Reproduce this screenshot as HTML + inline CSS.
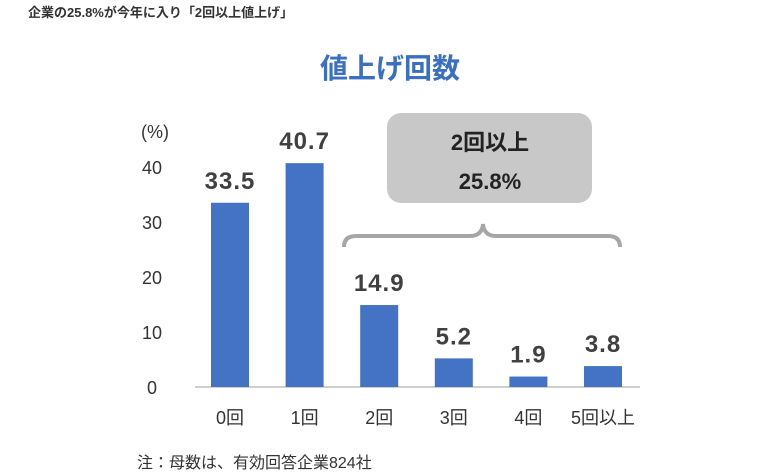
<!DOCTYPE html>
<html><head><meta charset="utf-8"><style>
body{margin:0;width:780px;height:471px;background:#fff;overflow:hidden;font-family:"Liberation Sans","Noto Sans CJK JP",sans-serif;}
</style></head><body>
<svg id="c" width="780" height="471" viewBox="0 0 780 471" style="font-family:'Liberation Sans','Noto Sans CJK JP',sans-serif">
<text x="28" y="17" font-size="13" font-weight="bold" fill="#333">企業の25.8%が今年に入り「2回以上値上げ」</text>
<text x="390" y="78" font-size="28" font-weight="bold" fill="#3a6fc2" text-anchor="middle">値上げ回数</text>
<text x="155" y="138" font-size="18" fill="#333" text-anchor="middle">(%)</text>
<rect x="387" y="113" width="205" height="90" rx="14" fill="#c8c8c8"/>
<text x="490" y="150" font-size="22" font-weight="bold" fill="#222" text-anchor="middle">2回以上</text>
<text x="490" y="189" font-size="22" font-weight="bold" fill="#222" text-anchor="middle">25.8%</text>
<path d="M344 247 Q344 236 356 236 L470 236 Q482 236 483 224 Q484 236 496 236 L608 236 Q620 236 620 247" fill="none" stroke="#a6a6a6" stroke-width="4"/>
<g id="g"></g>
<text x="137" y="468" font-size="16" fill="#333">注：母数は、有効回答企業824社</text>
</svg>
<script>
const categories=["0回","1回","2回","3回","4回","5回以上"];
const values=[33.5,40.7,14.9,5.2,1.9,3.8];
const ticks=[0,10,20,30,40];
const base=387, unit=5.5, x0=230, step=74.6, bw=38;
const y=v=>base-v*unit, x=i=>x0+i*step;
const g=document.getElementById('g'), NS='http://www.w3.org/2000/svg';
function mk(t,a,txt){const e=document.createElementNS(NS,t);for(const k in a)e.setAttribute(k,a[k]);if(txt!=null)e.textContent=txt;g.appendChild(e);return e;}
ticks.forEach(t=>{
 const e=mk('text',{x:152,y:y(t)+7,'font-size':18,fill:'#333','text-anchor':'middle'},t);
 
 
});
const ax=mk('line',{x1:195,x2:640,y1:base,y2:base,stroke:'#bfbfbf','stroke-width':1.5});


values.forEach((v,i)=>{
 const r=mk('rect',{x:x(i)-bw/2,y:y(v),width:bw,height:base-y(v),fill:'#4472c4'});
 
 
 const l=mk('text',{x:x(i),y:y(v)-14,'font-size':24,'font-weight':'bold',fill:'#404040','text-anchor':'middle','letter-spacing':1},v.toFixed(1));
 
 
 const c=mk('text',{x:x(i),y:424,'font-size':18,fill:'#333','text-anchor':'middle'},categories[i]);
 
 
});
</script>
</body></html>
